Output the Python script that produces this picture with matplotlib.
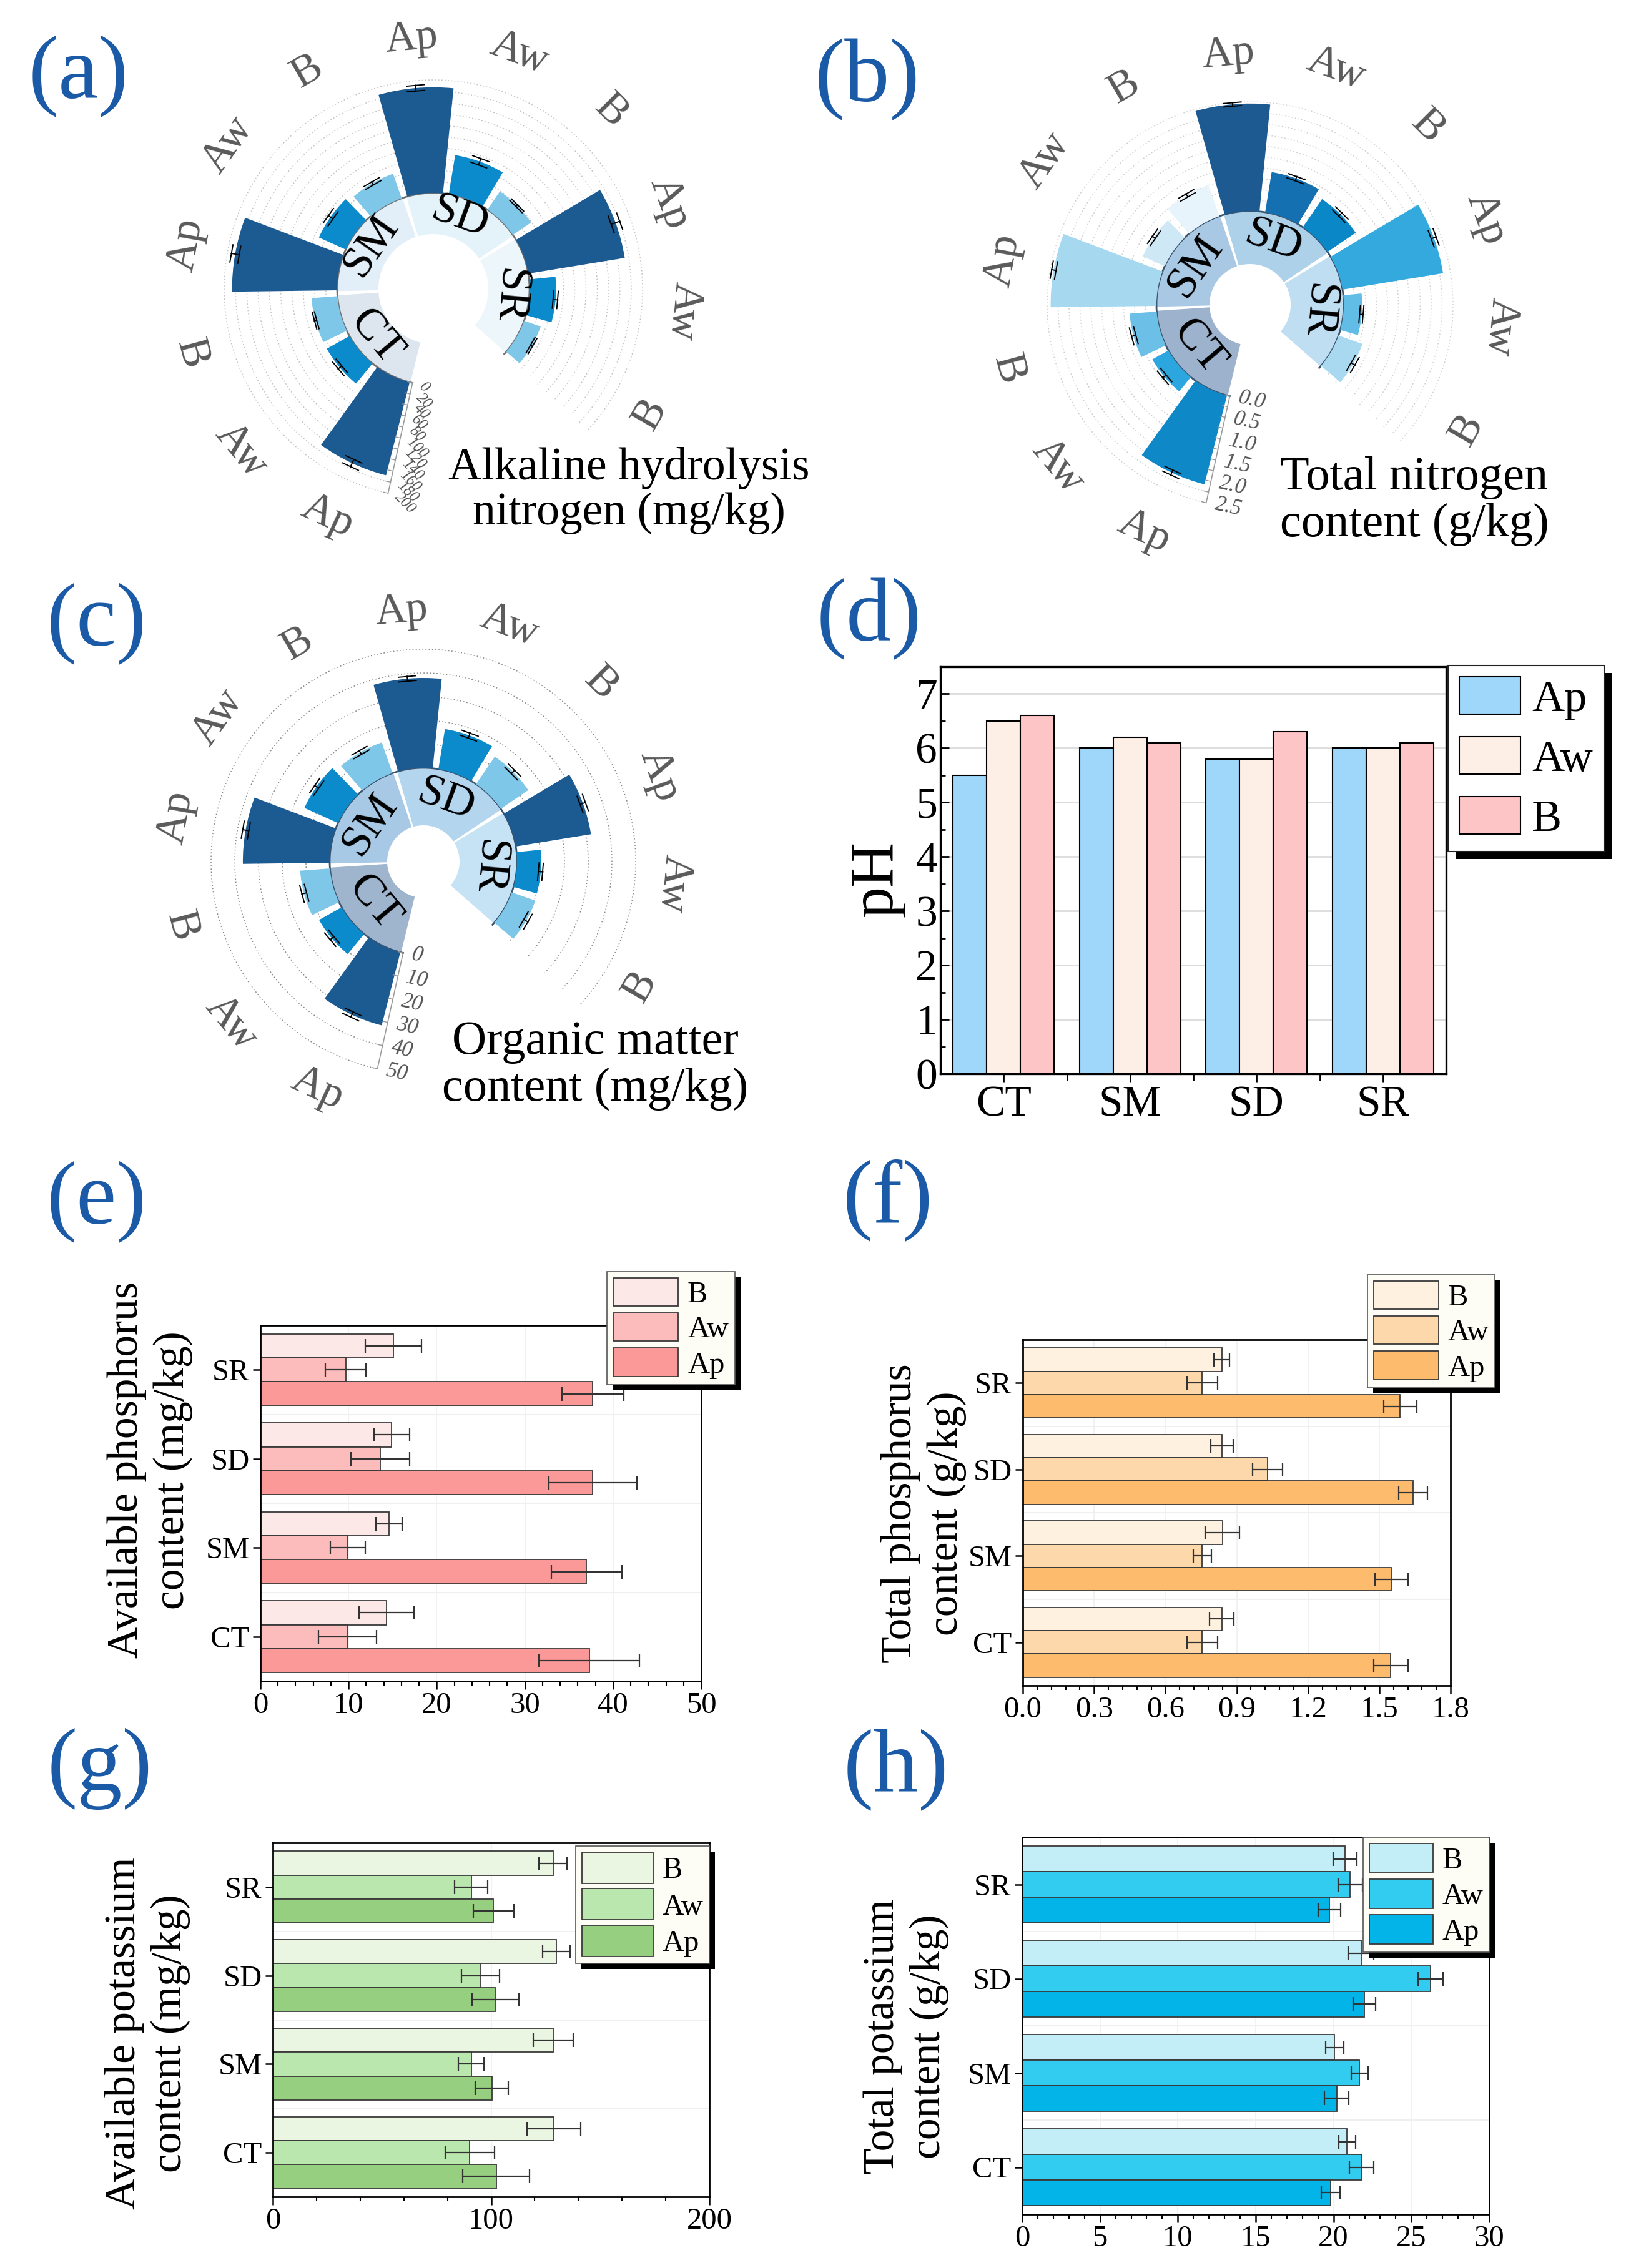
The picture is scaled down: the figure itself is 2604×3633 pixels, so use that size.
import numpy as np
import matplotlib.pyplot as plt
from matplotlib.patches import Rectangle
from matplotlib.ticker import AutoMinorLocator

plt.rcParams['font.family'] = ['Liberation Serif', 'DejaVu Serif']

W, H = 2604, 3633

groups = ['CT', 'SM', 'SD', 'SR']
treatments = ['Ap', 'Aw', 'B']

# (a) alkaline hydrolysis nitrogen (mg/kg)
an_ap = [170, 186, 187, 173]
an_aw = [46, 52, 70, 47]
an_b = [46, 46, 39, 31]
an_ap_err = [7, 7, 5, 8]
an_aw_err = [4, 5, 6, 4]
an_b_err = [2, 3, 2, 2]

# (b) total nitrogen (g/kg)
tn_ap = [2.10, 2.42, 2.46, 2.33]
tn_aw = [0.42, 0.55, 0.93, 0.42]
tn_b = [0.62, 0.75, 0.78, 0.58]
tn_ap_err = [0.06, 0.05, 0.04, 0.06]
tn_aw_err = [0.05, 0.04, 0.05, 0.04]
tn_b_err = [0.05, 0.04, 0.05, 0.05]

# (c) organic matter (mg/kg)
om_ap = [31.8, 36.6, 37.9, 32.1]
om_aw = [10.9, 15.5, 17.1, 10.2]
om_b = [12.6, 13.7, 14.0, 10.5]
om_ap_err = [1.2, 1.3, 1.0, 1.2]
om_aw_err = [1.0, 1.0, 1.1, 0.9]
om_b_err = [1.0, 0.9, 1.0, 1.0]

# (d) pH
ph_ap = [5.5, 6.0, 5.8, 6.0]
ph_aw = [6.5, 6.2, 5.8, 6.0]
ph_b = [6.6, 6.1, 6.3, 6.1]

# (e) available phosphorus (mg/kg)
avp_b = [14.3, 14.6, 14.9, 15.1]
avp_aw = [9.9, 9.9, 13.6, 9.7]
avp_ap = [37.3, 37.0, 37.7, 37.7]
avp_b_err = [3.1, 1.5, 2.0, 3.2]
avp_aw_err = [3.3, 2.0, 3.3, 2.3]
avp_ap_err = [5.7, 4.0, 5.0, 3.5]

# (f) total phosphorus (g/kg)
tp_b = [0.838, 0.84, 0.838, 0.838]
tp_aw = [0.755, 0.755, 1.03, 0.755]
tp_ap = [1.549, 1.551, 1.643, 1.588]
tp_b_err = [0.051, 0.072, 0.047, 0.033]
tp_aw_err = [0.065, 0.038, 0.063, 0.065]
tp_ap_err = [0.072, 0.069, 0.061, 0.07]

# (g) available potassium (mg/kg)
avk_b = [128.8, 128.4, 130.0, 128.4]
avk_aw = [90.2, 90.9, 95.1, 90.9]
avk_ap = [102.3, 100.4, 102.0, 101.1]
avk_b_err = [12.3, 9.1, 6.3, 6.5]
avk_aw_err = [11.3, 5.9, 8.7, 7.6]
avk_ap_err = [15.3, 7.6, 10.8, 9.3]

# (h) total potassium (g/kg)
tk_b = [20.87, 20.07, 21.77, 20.73]
tk_aw = [21.8, 21.67, 26.23, 21.07]
tk_ap = [19.8, 20.2, 21.97, 19.73]
tk_b_err = [0.53, 0.57, 0.82, 0.75]
tk_aw_err = [0.8, 0.55, 0.8, 0.78]
tk_ap_err = [0.6, 0.78, 0.72, 0.72]

fig = plt.figure(figsize=(W / 100, H / 100), dpi=100)
LABEL_BLUE = '#1b5aa6'


def fx(px):
    return px / W


def fy(py):
    return 1 - py / H


START = 192.5   # bearing of the radial axis (deg, clockwise from north)
STEP = 25.0


def text_rot(b):
    b = b % 360
    if 100 < b < 270:
        return 180 - b
    return -b


def polar_panel(cx, cy, r0_px, scale_px, hole_px, vmax, grid_step, label_step, fmt,
                ap, aw, b, ap_err, aw_err, b_err, bar_colors, ring_colors,
                grid_color, ring_line, tick_fs, tick_rot):
    k = scale_px / vmax
    vtop = vmax * 1.06
    rmax_px = r0_px + k * vtop
    ax = fig.add_axes([fx(cx - rmax_px), fy(cy + rmax_px), 2 * rmax_px / W, 2 * rmax_px / H],
                      projection='polar')
    rlow = -r0_px / k
    ax.set_theta_zero_location('N')
    ax.set_theta_direction(-1)
    ax.set_ylim(rlow, vtop)
    ax.set_xticks([])
    ax.set_yticks([])
    ax.grid(False)
    ax.spines['polar'].set_visible(False)
    ax.set_facecolor('none')

    def r_of(px):
        return rlow + px / k

    span = np.radians(np.linspace(START, START + 300, 400))
    for v in np.arange(0, vmax + grid_step / 2, grid_step):
        ax.plot(span, np.full_like(span, v), color=grid_color, lw=1.1, ls=(0, (1.2, 2.2)),
                zorder=0)

    # group ring
    hole = r_of(hole_px)
    for g in range(4):
        deg = START + 37.5 + 75 * g
        ax.bar(np.radians(deg), -hole, width=np.radians(72.5), bottom=hole,
               color=ring_colors[g], edgecolor='none', zorder=1)
        ax.text(np.radians(deg), r_of((hole_px + r0_px) / 2), groups[g], rotation=text_rot(deg),
                rotation_mode='anchor', ha='center', va='center', fontsize=52, color='k', zorder=5)
    ax.plot(span, np.zeros_like(span), color=ring_line, lw=2, zorder=2)

    values = np.column_stack([ap, aw, b]).ravel()
    errs = np.column_stack([ap_err, aw_err, b_err]).ravel()
    degs = START + STEP / 2 + STEP * np.arange(12)
    thetas = np.radians(degs)
    ax.bar(thetas, values, width=np.radians(21.5), bottom=0, color=bar_colors,
           edgecolor='none', zorder=2)
    for th, v, e in zip(thetas, values, errs):
        ax.plot([th, th], [v - e, v + e], color='k', lw=1.4, zorder=4)
        for rv in (v - e, v + e):
            d = 14 / ((rv - rlow) * k)
            ax.plot([th - d, th + d], [rv, rv], color='k', lw=1.4, zorder=4)

    for i, deg in enumerate(degs):
        ax.text(np.radians(deg), r_of(402), treatments[i % 3], rotation=text_rot(deg),
                rotation_mode='anchor', ha='center', va='center', fontsize=50, color='#5a5a5a')

    # radial axis with tick labels
    ax0 = np.radians(START)
    ax.plot([ax0, ax0], [0, vmax], color='#9a9a9a', lw=1.2, zorder=3)
    for v in np.arange(0, vmax + grid_step / 2, grid_step):
        d = 8 / ((v - rlow) * k)
        ax.plot([ax0, ax0 + d], [v, v], color='#9a9a9a', lw=1.0, zorder=3)
    for v in np.arange(0, vmax + label_step / 2, label_step):
        rp = (v - rlow) * k
        ax.text(ax0 - 14 / rp, v, fmt.format(v), rotation=tick_rot, rotation_mode='anchor',
                ha='left', va='center', fontsize=tick_fs, style='italic', color='#555555')
    return ax


std_cols = ['#1c5a92', '#0b8bcb', '#7fc7e8'] * 4

# (a)
polar_panel(694, 463, 154, 181, 88, 200, 20, 20, '{:.0f}',
            an_ap, an_aw, an_b, an_ap_err, an_aw_err, an_b_err, std_cols,
            ['#dde6ef', '#e2eef8', '#e4f2fa', '#edf6fa'], '#c4c4c4', '#707070', 18, -45)
fig.text(fx(1007), fy(786), 'Alkaline hydrolysis\nnitrogen (mg/kg)', ha='center', va='center',
         fontsize=53, linespacing=1.1)

# (b)
tn_cols = ['#0f88c8', '#2ca6de', '#6cc0e8',
           '#a6d9ef', '#cfe8f6', '#e8f4fc',
           '#1d5a92', '#1570b2', '#0a87c7',
           '#33a9dd', '#62bde6', '#a8d9f0']
polar_panel(2002, 488, 150, 175, 65, 2.5, 0.25, 0.5, '{:.1f}',
            tn_ap, tn_aw, tn_b, tn_ap_err, tn_aw_err, tn_b_err, tn_cols,
            ['#9db2cc', '#a9c8e4', '#aed1ea', '#c0def2'], '#d0d0d0', '#3b556f', 25, -12.5)
fig.text(fx(2265), fy(803), 'Total nitrogen\ncontent (g/kg)', ha='center', va='center',
         fontsize=55, linespacing=1.1)

# (c)
polar_panel(678, 1380, 150, 190, 58, 50, 10, 10, '{:.0f}',
            om_ap, om_aw, om_b, om_ap_err, om_aw_err, om_b_err, std_cols,
            ['#9fb4cd', '#a8c9e5', '#b3d6ee', '#c5e3f4'], '#8c8c8c', '#3b556f', 25, -12.5)
fig.text(fx(953), fy(1707), 'Organic matter\ncontent (mg/kg)', ha='center', va='center',
         fontsize=55, linespacing=1.1)

shadow_jobs = []

# (d) pH
axd = fig.add_axes([fx(1506), fy(1720), 810 / W, 652 / H])
x = np.arange(4)
w = 0.267
axd.bar(x - w, ph_ap, w, color='#9fd7fb', edgecolor='k', lw=1.5, label='Ap', zorder=2)
axd.bar(x, ph_aw, w, color='#feefe6', edgecolor='k', lw=1.5, label='Aw', zorder=2)
axd.bar(x + w, ph_b, w, color='#fec5c7', edgecolor='k', lw=1.5, label='B', zorder=2)
axd.set_xlim(-0.5, 3.5)
axd.set_ylim(0, 7.5)
axd.set_xticks(x, groups)
axd.set_xticks([0.5, 1.5, 2.5], minor=True)
axd.set_yticks(range(8))
axd.set_yticks(np.arange(0.5, 7.5, 1), minor=True)
axd.grid(axis='y', which='major', color='#dcdcdc', lw=2)
axd.set_axisbelow(True)
axd.tick_params(axis='both', labelsize=50, width=2, length=10)
axd.tick_params(axis='y', which='both', direction='in')
axd.tick_params(axis='x', which='minor', length=8, width=2)
axd.tick_params(axis='y', which='minor', length=6, width=2)
for s in axd.spines.values():
    s.set_linewidth(2.4)
legd = axd.legend(loc='upper left', bbox_to_anchor=(1.004, 1.003), borderaxespad=0, fontsize=52,
                  handlelength=1.35, handleheight=0.9, labelspacing=0.36, borderpad=0.25,
                  handletextpad=0.25, fancybox=False, framealpha=1, edgecolor='#222222')
legd.get_frame().set_linewidth(1.5)
shadow_jobs.append((axd, legd, 12))
fig.text(fx(1404), fy(1408), 'pH', rotation=90, ha='center', va='center', fontsize=72)


def hbar_panel(box, b, aw, ap, b_err, aw_err, ap_err, colors, xlim, xticks, fmt,
               anchor, hl, hh, ylabel, ylab_xy):
    x0, y0, x1, y1 = box
    ax = fig.add_axes([fx(x0), fy(y1), (x1 - x0) / W, (y1 - y0) / H])
    y = np.arange(4)
    h = 0.27
    ekw = dict(ecolor='#333333', elinewidth=1.6, capsize=8, capthick=1.6, zorder=4)
    ax.barh(y + h, b, h, xerr=b_err, color=colors[0], edgecolor='#3a3a3a', lw=1.3,
            error_kw=ekw, label='B', zorder=2)
    ax.barh(y, aw, h, xerr=aw_err, color=colors[1], edgecolor='#3a3a3a', lw=1.3,
            error_kw=ekw, label='Aw', zorder=2)
    ax.barh(y - h, ap, h, xerr=ap_err, color=colors[2], edgecolor='#3a3a3a', lw=1.3,
            error_kw=ekw, label='Ap', zorder=2)
    ax.set_ylim(-0.5, 3.5)
    ax.set_xlim(*xlim)
    ax.set_xticks(xticks, [fmt.format(t) for t in xticks])
    ax.xaxis.set_minor_locator(AutoMinorLocator(5))
    ax.set_yticks(y, groups)
    ax.set_yticks([0.5, 1.5, 2.5], minor=True)
    ax.tick_params(axis='y', which='minor', length=0)
    ax.grid(axis='y', which='minor', color='#efefef', lw=1.5)
    ax.grid(axis='x', which='major', color='#f2f2f2', lw=1.5)
    ax.set_axisbelow(True)
    ax.tick_params(axis='both', which='major', labelsize=35, length=9, width=1.8)
    ax.tick_params(axis='x', which='minor', length=5, width=1.5)
    for s in ax.spines.values():
        s.set_linewidth(2)
    leg = ax.legend(loc='upper right', bbox_to_anchor=anchor, borderaxespad=0, fontsize=35,
                    handlelength=hl, handleheight=hh, labelspacing=0.15, borderpad=0.2,
                    handletextpad=0.3, fancybox=False, framealpha=1, facecolor='#fdfdf6',
                    edgecolor='#555555')
    leg.get_frame().set_linewidth(1.2)
    shadow_jobs.append((ax, leg, 9))
    fig.text(fx(ylab_xy[0]), fy(ylab_xy[1]), ylabel, rotation=90, ha='center', va='center',
             fontsize=50, linespacing=1.22, multialignment='center')
    return ax


hbar_panel((417, 2123, 1123, 2693), avp_b, avp_aw, avp_ap, avp_b_err, avp_aw_err, avp_ap_err,
           ['#fde8e8', '#fdbcbc', '#fb9898'], (0, 50), [0, 10, 20, 30, 40, 50], '{:.0f}',
           (1.076, 1.151), 2.15, 1.05, 'Available phosphorus\ncontent (mg/kg)', (240, 2355))
hbar_panel((1638, 2146, 2323, 2700), tp_b, tp_aw, tp_ap, tp_b_err, tp_aw_err, tp_ap_err,
           ['#fff1df', '#fdd8aa', '#fdbb6e'], (0, 1.8), [0, 0.3, 0.6, 0.9, 1.2, 1.5, 1.8], '{:.1f}',
           (1.104, 1.188), 2.15, 1.05, 'Total phosphorus\ncontent (g/kg)', (1479, 2424))
hbar_panel((437, 2952, 1136, 3519), avk_b, avk_aw, avk_ap, avk_b_err, avk_aw_err, avk_ap_err,
           ['#ebf6e2', '#bae7ae', '#97cf80'], (0, 200), [0, 100, 200], '{:.0f}',
           (1.0, 0.991), 2.35, 1.2, 'Available potassium\ncontent (mg/kg)', (236, 3257))
hbar_panel((1637, 2943, 2385, 3547), tk_b, tk_aw, tk_ap, tk_b_err, tk_aw_err, tk_ap_err,
           ['#c4eef7', '#31ccef', '#02b4e7'], (0, 30), [0, 5, 10, 15, 20, 25, 30], '{:.0f}',
           (1.0, 1.0), 2.1, 1.1, 'Total potassium\ncontent (g/kg)', (1451, 3262))

# panel letters
for lab, (px, py) in zip('abcdefgh', [(126, 122), (1389, 128), (155, 999), (1392, 992),
                                       (155, 1925), (1422, 1922), (160, 2833), (1435, 2836)]):
    fig.text(fx(px), fy(py), '(%s)' % lab, ha='center', va='center', fontsize=104,
             color=LABEL_BLUE)

# legend drop shadows
fig.canvas.draw()
renderer = fig.canvas.get_renderer()
for ax, leg, off in shadow_jobs:
    bb = leg.get_frame().get_window_extent(renderer)
    sh = Rectangle((fx(bb.x0 + off), (bb.y0 - off) / H), bb.width / W, bb.height / H,
                   transform=fig.transFigure, facecolor='k', edgecolor='none',
                   zorder=leg.get_zorder() - 0.1, clip_on=False)
    ax.add_artist(sh)

fig.savefig('out.png', dpi=100)
